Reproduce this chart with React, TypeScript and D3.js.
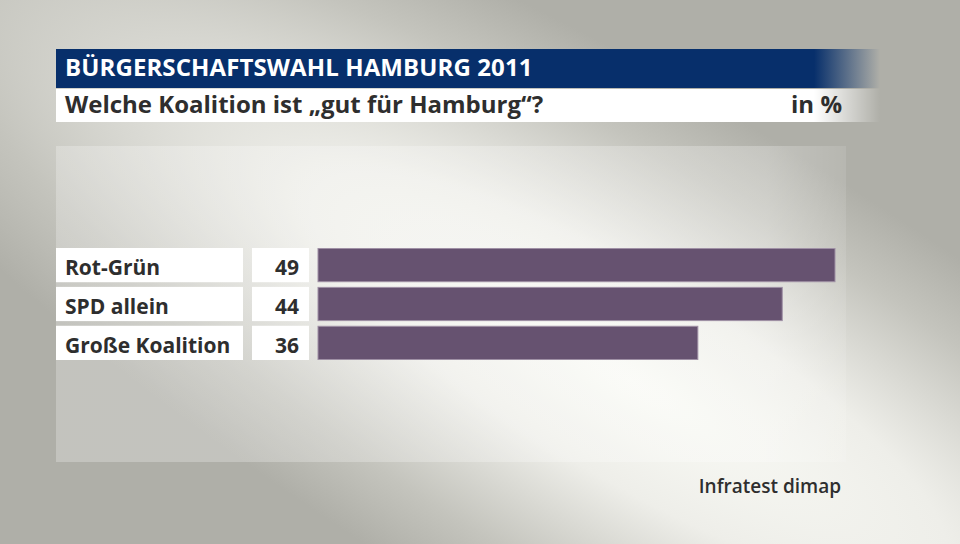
import React from 'react';
import * as d3 from 'd3';

const categories = ['Rot-Grün', 'SPD allein', 'Große Koalition'];
const values = [49, 44, 36];
const title = 'BÜRGERSCHAFTSWAHL HAMBURG 2011';
const subtitle = 'Welche Koalition ist „gut für Hamburg“?';
const unit = 'in %';
const source = 'Infratest dimap';

const W = 960;
const H = 544;
const font = '"Open Sans", "Noto Sans", sans-serif';

export default function App() {
  const x = d3.scaleLinear().domain([0, 49]).range([318, 835]);
  const y = d3.scaleBand().domain(categories).range([248, 360]).paddingInner(0.12).paddingOuter(0);

  return (
    <svg width={W} height={H} style={{ position: 'absolute', left: 0, top: 0 }}>
      <defs>
        <radialGradient
          id="bg"
          cx="0"
          cy="0"
          r="1"
          gradientUnits="userSpaceOnUse"
          gradientTransform="translate(630,380) rotate(31) scale(1050,280)"
        >
          <stop offset="0" stopColor="#f9faf5" />
          <stop offset="0.35" stopColor="#eeeee9" />
          <stop offset="0.75" stopColor="#c4c4bd" />
          <stop offset="1" stopColor="#afafa8" />
        </radialGradient>
        <linearGradient id="blueFade" x1="56" x2="880" gradientUnits="userSpaceOnUse">
          <stop offset="0.92" stopColor="#072f6b" stopOpacity={1} />
          <stop offset="1" stopColor="#072f6b" stopOpacity={0} />
        </linearGradient>
        <linearGradient id="whiteFade" x1="56" x2="880" gradientUnits="userSpaceOnUse">
          <stop offset="0.92" stopColor="#ffffff" stopOpacity={1} />
          <stop offset="1" stopColor="#ffffff" stopOpacity={0} />
        </linearGradient>
        <linearGradient id="panelFade" x1="56" x2="846" gradientUnits="userSpaceOnUse">
          <stop offset="0.9" stopColor="#ffffff" stopOpacity={0.25} />
          <stop offset="1" stopColor="#ffffff" stopOpacity={0.1} />
        </linearGradient>
      </defs>
      <rect width={W} height={H} fill="url(#bg)" />

      {/* header */}
      <rect x={56} y={49} width={824} height={39} fill="url(#blueFade)" />
      <text x={65} y={76} fill="#fff" fontFamily={font} fontWeight={700} fontSize={24} letterSpacing={0.1}>
        {title}
      </text>
      <rect x={56} y={89} width={824} height={33} fill="url(#whiteFade)" />
      <text x={65} y={113} fill="#2e2e2e" fontFamily={font} fontWeight={700} fontSize={24}>
        {subtitle}
      </text>
      <text x={842} y={113} fill="#2e2e2e" fontFamily={font} fontWeight={700} fontSize={24} textAnchor="end">
        {unit}
      </text>

      {/* panel */}
      <rect x={56} y={146} width={790} height={316} fill="url(#panelFade)" />

      {categories.map((c, i) => {
        const yy = y(c)!;
        const h = y.bandwidth();
        return (
          <g key={c}>
            <rect x={56} y={yy} width={187} height={h} fill="#fff" />
            <text x={65} y={yy + 27} fill="#2e2e2e" fontFamily={font} fontWeight={700} fontSize={21}>
              {c}
            </text>
            <rect x={252} y={yy} width={57} height={h} fill="#fff" />
            <text x={299} y={yy + 27} fill="#2e2e2e" fontFamily={font} fontWeight={700} fontSize={21} textAnchor="end">
              {values[i]}
            </text>
            <rect x={x(0)} y={yy + 0.5} width={x(values[i]) - x(0)} height={h - 1} fill="#665270" stroke="#9f90a5" strokeWidth={1} />
          </g>
        );
      })}

      <text x={841} y={493} fill="#2e2e2e" fontFamily={font} fontWeight={600} fontSize={19} textAnchor="end">
        {source}
      </text>
    </svg>
  );
}
